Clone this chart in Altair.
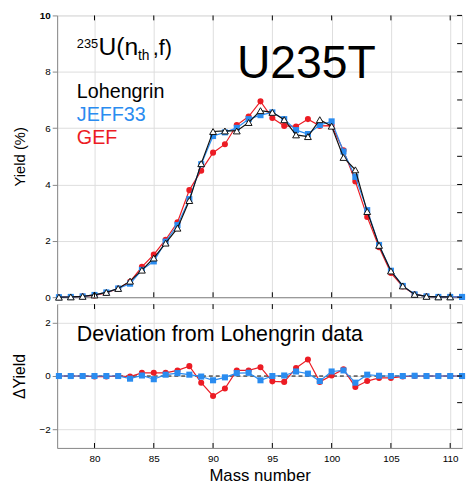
import altair as alt
import pandas as pd

# ---------------- data ----------------
mass = list(range(77, 112))          # 77 .. 111
mass_loh = list(range(77, 111))      # 77 .. 110

lohengrin = [0.00, 0.01, 0.03, 0.08, 0.17, 0.31, 0.57, 0.96, 1.39, 1.92, 2.45, 3.43,
             4.74, 5.88, 5.90, 5.90, 6.20, 6.62, 6.56, 6.30, 5.76, 5.70, 6.30, 6.07,
             4.96, 4.52, 3.04, 1.84, 0.93, 0.40, 0.10, 0.03, 0.01, 0.01]
jeff33 = [0.00, 0.01, 0.03, 0.08, 0.17, 0.31, 0.48, 0.97, 1.27, 1.97, 2.56, 3.48,
          4.72, 5.72, 5.85, 6.01, 6.32, 6.46, 6.56, 6.32, 5.93, 5.79, 6.11, 6.24,
          5.17, 4.27, 3.09, 1.85, 0.94, 0.40, 0.10, 0.03, 0.01, 0.01, 0.01]
gef = [0.00, 0.01, 0.03, 0.06, 0.15, 0.31, 0.55, 1.08, 1.51, 2.04, 2.66, 3.80,
       4.49, 5.13, 5.43, 6.11, 6.41, 6.95, 6.36, 6.08, 6.06, 6.32, 6.08, 6.09,
       5.21, 4.11, 2.85, 1.77, 0.86, 0.38, 0.10, 0.03, 0.01, 0.01, 0.01]

dev_gef = [0, 0, 0, -0.02, -0.02, 0, -0.02, 0.12, 0.12, 0.12, 0.21, 0.37,
           -0.25, -0.75, -0.47, 0.21, 0.21, 0.33, -0.20, -0.22, 0.30, 0.62, -0.22, 0.02,
           0.25, -0.41, -0.19, -0.07, -0.07, -0.02, 0, 0, 0, 0, 0]
dev_jeff = [0, 0, 0, 0, 0, 0, -0.10, 0.02, -0.12, 0.05, 0.11, 0.05,
            -0.02, -0.16, -0.05, 0.11, 0.12, -0.16, 0.00, 0.02, 0.17, 0.09, -0.19, 0.17,
            0.21, -0.25, 0.05, 0.01, 0.00, 0.00, 0.01, 0.00, 0.00, 0.00, 0.00]

x_ticks = [80, 85, 90, 95, 100, 105, 110]
y_ticks_top = list(range(0, 11))
y_ticks_bot = [-2, -1, 0, 1, 2]

BLACK = "#111111"
BLUE = "#2a8cf0"
RED = "#ec1c24"
FONT = "Liberation Sans"

W = 411
H_TOP = 286
H_BOT = 146

df_loh = pd.DataFrame({"m": mass_loh, "v": lohengrin})
df_jeff = pd.DataFrame({"m": mass, "v": jeff33})
df_gef = pd.DataFrame({"m": mass, "v": gef})
df_dg = pd.DataFrame({"m": mass, "v": dev_gef})
df_dj = pd.DataFrame({"m": mass, "v": dev_jeff})
df_xt = pd.DataFrame({"t": x_ticks})
df_yt_top = pd.DataFrame({"t": y_ticks_top})
df_yt_bot = pd.DataFrame({"t": y_ticks_bot})
one = pd.DataFrame({"a": [0]})

xscale = alt.Scale(domain=[76.85, 111.0], nice=False, zero=False)
yscale_top = alt.Scale(domain=[0, 10], nice=False, zero=False)
yscale_bot = alt.Scale(domain=[-2.7, 2.7], nice=False, zero=False)

minor_cond = {"condition": {"test": "datum.value % 2 == 0", "value": 5}, "value": 3}
bold10 = {"condition": {"test": "datum.value == 10", "value": "bold"}, "value": "normal"}

x_top = alt.X("m:Q", scale=xscale,
              axis=alt.Axis(values=x_ticks, labels=False, ticks=False, tickSize=0, title=None))
y_top = alt.Y("v:Q", scale=yscale_top,
              axis=alt.Axis(values=y_ticks_top, tickSize=minor_cond,
                            labelFontWeight=bold10,
                            labelExpr="datum.value % 2 == 0 ? datum.label : ''",
                            title="Yield (%)", titleX=-30, titleFontSize=15,
                            titleFontWeight="normal"))

def series(df, color, shape, filled_white=False):
    line = alt.Chart(df).mark_line(color=color, strokeWidth=1.2).encode(x=x_top, y=y_top)
    if filled_white:
        pts = alt.Chart(df).mark_point(shape=shape, filled=True, fill="white",
                                       stroke=color, strokeWidth=1, size=48, opacity=1
                                       ).encode(x=x_top, y=y_top)
    else:
        pts = alt.Chart(df).mark_point(shape=shape, filled=True, color=color,
                                       size=38, opacity=1).encode(x=x_top, y=y_top)
    return line + pts

top_layers = [
    series(df_gef, RED, "circle"),
    series(df_jeff, BLUE, "square"),
    series(df_loh, BLACK, "triangle-up", filled_white=True),
]

# inward ticks (top, bottom, right)
tick_top_in = alt.Chart(df_xt).mark_rule(color="black").encode(
    x=alt.X("t:Q", scale=xscale), y=alt.value(0), y2=alt.value(5))
tick_bot_in = alt.Chart(df_xt).mark_rule(color="black").encode(
    x=alt.X("t:Q", scale=xscale), y=alt.value(H_TOP - 5), y2=alt.value(H_TOP))
tick_right_top = alt.Chart(df_yt_top).mark_rule(color="black").encode(
    y=alt.Y("t:Q", scale=yscale_top), x=alt.value(W - 5), x2=alt.value(W))

def txt(s, x, y, size, color="black", align="left"):
    return alt.Chart(one).mark_text(text=s, fontSize=size, color=color, align=align,
                                    baseline="alphabetic", font=FONT).encode(
        x=alt.value(x), y=alt.value(y))

top_text = [
    txt("235", 20, 33, 13),
    txt("U(n", 42, 40, 25),
    txt("th", 82, 45, 14),
    txt(",f)", 97, 40, 22),
    txt("U235T", 253, 63, 47, align="center"),
    txt("Lohengrin", 20, 84, 20),
    txt("JEFF33", 20, 107, 20, color=BLUE),
    txt("GEF", 20, 131, 20, color=RED),
]

top = alt.layer(*(top_layers + [tick_top_in, tick_bot_in, tick_right_top] + top_text)
                ).properties(width=W, height=H_TOP)

# ---------------- bottom panel ----------------
x_bot = alt.X("m:Q", scale=xscale,
              axis=alt.Axis(values=x_ticks, ticks=False, tickSize=0, labelPadding=6,
                            title="Mass number", titleFontSize=17,
                            titleFontWeight="normal", titlePadding=4))
y_bot = alt.Y("v:Q", scale=yscale_bot,
              axis=alt.Axis(values=y_ticks_bot, tickSize=minor_cond,
                            labelExpr="datum.value % 2 == 0 ? datum.label : ''",
                            title="\u0394Yield", titleX=-30, titleFontSize=16,
                            titleFontWeight="normal"))

zero_line = alt.Chart(one).mark_rule(color="black", strokeDash=[4, 3], strokeWidth=1).encode(
    y=alt.Y("datum_zero:Q", scale=yscale_bot), x=alt.value(0), x2=alt.value(W)
).transform_calculate(datum_zero="0")

def dev_series(df, color, shape):
    line = alt.Chart(df).mark_line(color=color, strokeWidth=1.2).encode(x=x_bot, y=y_bot)
    pts = alt.Chart(df).mark_point(shape=shape, filled=True, color=color,
                                   size=38, opacity=1).encode(x=x_bot, y=y_bot)
    return line + pts

tick_bot2_top_in = alt.Chart(df_xt).mark_rule(color="black").encode(
    x=alt.X("t:Q", scale=xscale), y=alt.value(0), y2=alt.value(5))
tick_bot2_in = alt.Chart(df_xt).mark_rule(color="black").encode(
    x=alt.X("t:Q", scale=xscale), y=alt.value(H_BOT - 5), y2=alt.value(H_BOT))
tick_right_bot = alt.Chart(df_yt_bot).mark_rule(color="black").encode(
    y=alt.Y("t:Q", scale=yscale_bot), x=alt.value(W - 5), x2=alt.value(W))

bottom = alt.layer(
    zero_line,
    dev_series(df_dg, RED, "circle"),
    dev_series(df_dj, BLUE, "square"),
    tick_bot2_top_in, tick_bot2_in, tick_right_bot,
    txt("Deviation from Lohengrin data", 20, 37, 21.7),
).properties(width=W, height=H_BOT)

chart = alt.vconcat(top, bottom, spacing=0).properties(
    padding={"left": 11, "top": 6, "right": 0, "bottom": 0}
).configure_view(stroke="black", strokeWidth=1).configure_axis(
    grid=False, domainColor="black", tickColor="black", labelColor="black",
    titleColor="black", labelFont=FONT, titleFont=FONT, labelFontSize=11.5,
    domainWidth=1, tickWidth=1
).configure(background="white")

chart.save("out.html", embed_options={"renderer": "svg", "actions": False})
